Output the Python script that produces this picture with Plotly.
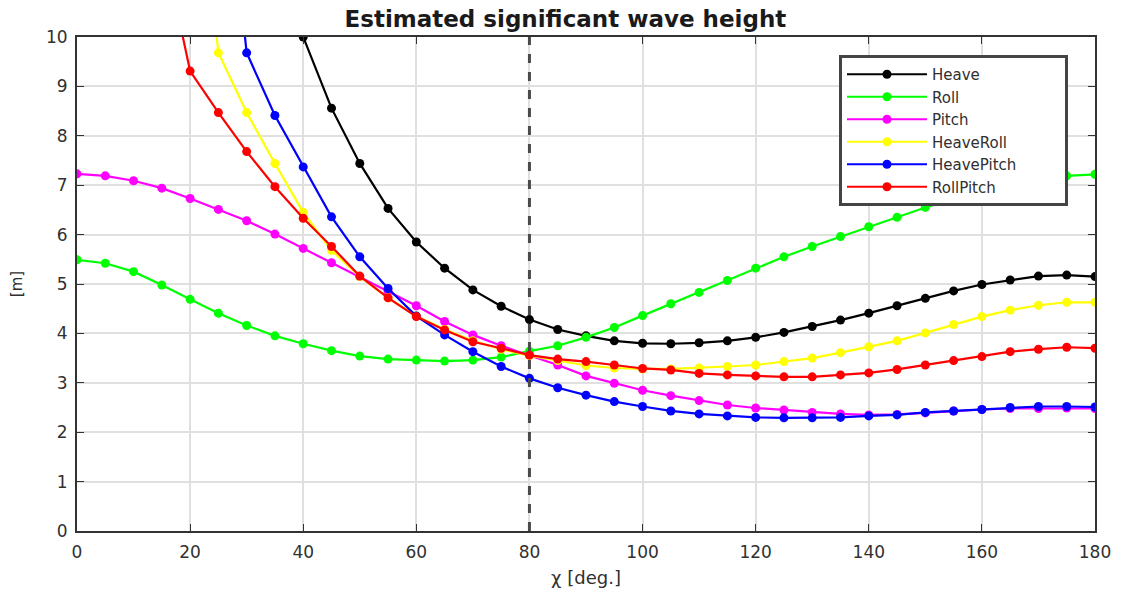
import plotly.graph_objects as go

chi = list(range(0, 185, 5))

heave = [None]*7 + [11.9, 10.0, 8.56, 7.44, 6.53, 5.85, 5.32, 4.88, 4.55, 4.28, 4.08, 3.95, 3.85, 3.80, 3.79,
         3.81, 3.85, 3.92, 4.02, 4.14, 4.27, 4.41, 4.56, 4.71, 4.86, 4.99, 5.08, 5.16, 5.18, 5.15]
roll = [5.49, 5.42, 5.25, 4.98, 4.69, 4.41, 4.16, 3.95, 3.79, 3.65, 3.54, 3.48, 3.46, 3.44, 3.46, 3.52,
        3.64, 3.75, 3.92, 4.12, 4.36, 4.60, 4.83, 5.07, 5.32, 5.55, 5.76, 5.96, 6.16, 6.35, 6.55, 6.71,
        6.88, 7.02, 7.13, 7.19, 7.22]
pitch = [7.23, 7.19, 7.09, 6.94, 6.73, 6.51, 6.28, 6.01, 5.72, 5.43, 5.15, 4.85, 4.56, 4.24, 3.97, 3.75,
         3.56, 3.36, 3.14, 2.99, 2.85, 2.74, 2.64, 2.55, 2.49, 2.45, 2.40, 2.37, 2.35, 2.36, 2.39, 2.43,
         2.46, 2.48, 2.48, 2.49, 2.48]
heave_roll = [None]*4 + [15.0, 9.68, 8.47, 7.44, 6.45, 5.68, 5.15, 4.72, 4.35, 4.08, 3.85, 3.68, 3.55,
              3.45, 3.35, 3.30, 3.28, 3.28, 3.30, 3.33, 3.36, 3.43, 3.50, 3.61, 3.73, 3.85, 4.01, 4.18,
              4.34, 4.47, 4.57, 4.63, 4.63]
heave_pitch = [None]*5 + [15.0, 9.68, 8.41, 7.37, 6.36, 5.55, 4.91, 4.35, 3.97, 3.63, 3.33, 3.09, 2.90,
               2.75, 2.62, 2.52, 2.43, 2.37, 2.33, 2.30, 2.29, 2.29, 2.30, 2.33, 2.35, 2.40, 2.43, 2.46,
               2.50, 2.52, 2.52, 2.51]
roll_pitch = [None]*3 + [12.0, 9.31, 8.47, 7.68, 6.97, 6.33, 5.76, 5.16, 4.72, 4.34, 4.07, 3.83, 3.70,
              3.56, 3.48, 3.43, 3.36, 3.29, 3.26, 3.19, 3.16, 3.14, 3.12, 3.12, 3.16, 3.20, 3.27, 3.36,
              3.45, 3.53, 3.63, 3.68, 3.72, 3.70]

names = ["Heave", "Roll", "Pitch", "HeaveRoll", "HeavePitch", "RollPitch"]
series = [heave, roll, pitch, heave_roll, heave_pitch, roll_pitch]
colors = ["#000000", "#00ff00", "#ff00ff", "#ffff00", "#0000ff", "#ff0000"]

marker_x = 80
FONT = "DejaVu Sans, Verdana, sans-serif"
PAD = "\u00a0" * 9

fig = go.Figure()
for name, ys, c in zip(names, series, colors):
    label = name + PAD if name == "HeavePitch" else name
    fig.add_trace(go.Scatter(x=chi, y=ys, name=label, mode="lines+markers",
                             line=dict(color=c, width=2.2),
                             marker=dict(color=c, size=9, symbol="circle")))

fig.add_shape(type="line", x0=marker_x, x1=marker_x, y0=0, y1=10, xref="x", yref="y",
              line=dict(color="#4a4a4a", width=3, dash="dash"))

axis_common = dict(showgrid=True, gridcolor="#e0e0e0", gridwidth=1.5, showline=True,
                   linecolor="#333333", linewidth=2, mirror="ticks", ticks="inside",
                   ticklen=7, tickcolor="#333333", zeroline=False,
                   tickfont=dict(family=FONT, size=17, color="#303030"))

fig.update_layout(
    width=1124, height=599,
    paper_bgcolor="white", plot_bgcolor="white",
    margin=dict(l=77, r=29, t=37, b=68),
    title=dict(text="<b>Estimated significant wave height</b>", x=0.503, xanchor="center",
               y=0.968, yanchor="middle",
               font=dict(family=FONT, size=23, color="#1a1a1a")),
    xaxis=dict(range=[0, 180], tickvals=list(range(0, 181, 20)), ticklabelstandoff=5,
               title=dict(text="χ [deg.]", standoff=10,
                          font=dict(family=FONT, size=18, color="#303030")),
               **axis_common),
    yaxis=dict(range=[0, 10], tickvals=list(range(0, 11)), ticklabelstandoff=4,
               title=dict(text="[m]", standoff=20,
                          font=dict(family=FONT, size=15, color="#303030")),
               **axis_common),
    legend=dict(x=0.7485, y=0.9636, xanchor="left", yanchor="top",
                bgcolor="white", bordercolor="#444444", borderwidth=3,
                font=dict(family=FONT, size=15, color="#303030"),
                itemwidth=80, tracegroupgap=0),
    showlegend=True,
)

fig.write_html("out.html")
